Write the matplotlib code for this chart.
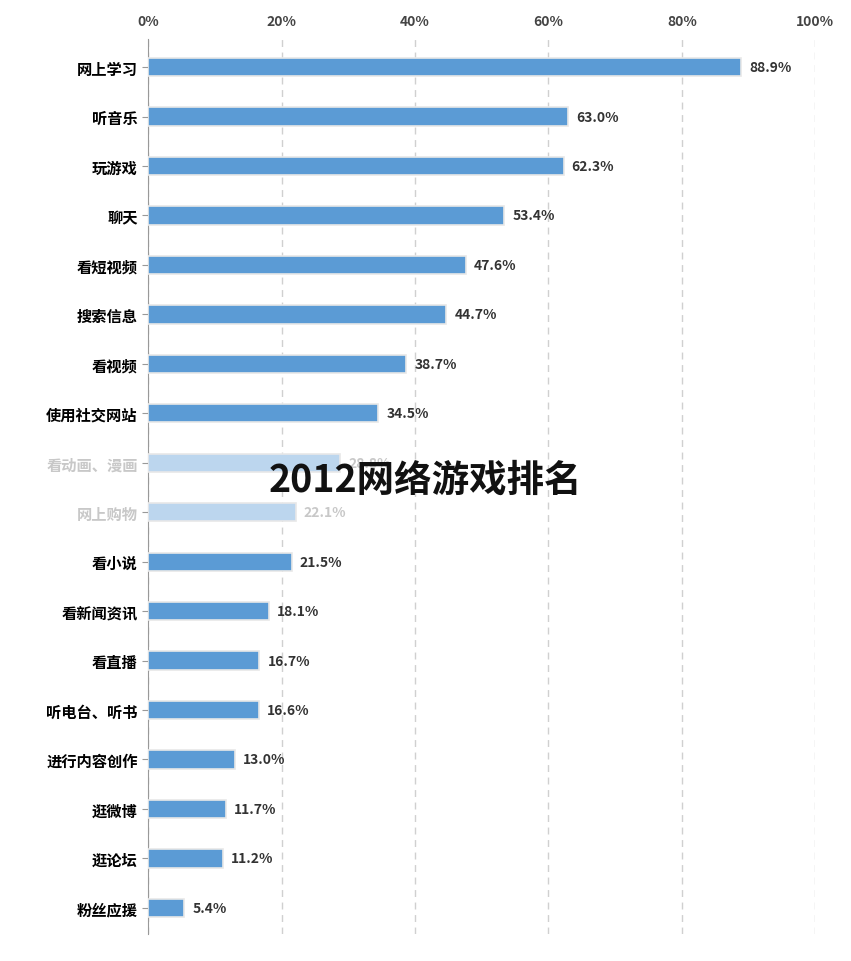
import matplotlib
matplotlib.use("Agg")
import matplotlib.pyplot as plt

plt.rcParams["font.family"] = ["Noto Sans CJK SC", "DejaVu Sans"]

categories = ["网上学习", "听音乐", "玩游戏", "聊天", "看短视频", "搜索信息", "看视频", "使用社交网站",
              "看动画、漫画", "网上购物", "看小说", "看新闻资讯", "看直播", "听电台、听书",
              "进行内容创作", "逛微博", "逛论坛", "粉丝应援"]
values = [88.9, 63.0, 62.3, 53.4, 47.6, 44.7, 38.7, 34.5, 28.8, 22.1, 21.5, 18.1, 16.7, 16.6, 13.0, 11.7, 11.2, 5.4]
faded = ["看动画、漫画", "网上购物"]
xticks = [0, 20, 40, 60, 80, 100]
xticklabels = ["0%", "20%", "40%", "60%", "80%", "100%"]
title = "2012网络游戏排名"

fig = plt.figure(figsize=(8.51, 9.62), dpi=100)
ax = fig.add_axes([0.174, 0.028, 0.784, 0.93])
ys = list(range(len(categories)))
for y, c, v in zip(ys, categories, values):
    f = c in faded
    col = "#bcd6ee" if f else "#5b9bd5"
    ax.barh(y, v, height=0.37, color=col, edgecolor="#e8e8e8", linewidth=1.2, zorder=3)
    ax.text(v + 1.2, y, f"{v:.1f}%", va="center", ha="left", fontsize=10, fontweight="bold",
            color="#c8c8c8" if f else "#333333", zorder=4)
ax.set_yticks(ys)
ax.set_yticklabels(categories, fontsize=11, fontweight="bold")
for lbl, c in zip(ax.get_yticklabels(), categories):
    if c in faded:
        lbl.set_color("#c8c8c8")
ax.set_ylim(17.53, -0.56)
ax.set_xlim(0, 100)
ax.set_xticks(xticks)
ax.set_xticklabels(xticklabels, fontsize=10, fontweight="bold", color="#444444")
ax.xaxis.tick_top()
ax.tick_params(axis="x", length=0, pad=8)
ax.tick_params(axis="y", length=4, color="#999999", direction="out")
ax.grid(axis="x", linestyle=(0, (5, 4)), color="#d0d0d0", linewidth=1, zorder=0)
for s in ["top", "right", "bottom"]:
    ax.spines[s].set_visible(False)
ax.spines["left"].set_color("#999999")
fig.text(0.5, 0.501, title, ha="center", va="center", fontsize=27, fontweight="bold", color="#111111")
fig.savefig("out.png", dpi=100)
